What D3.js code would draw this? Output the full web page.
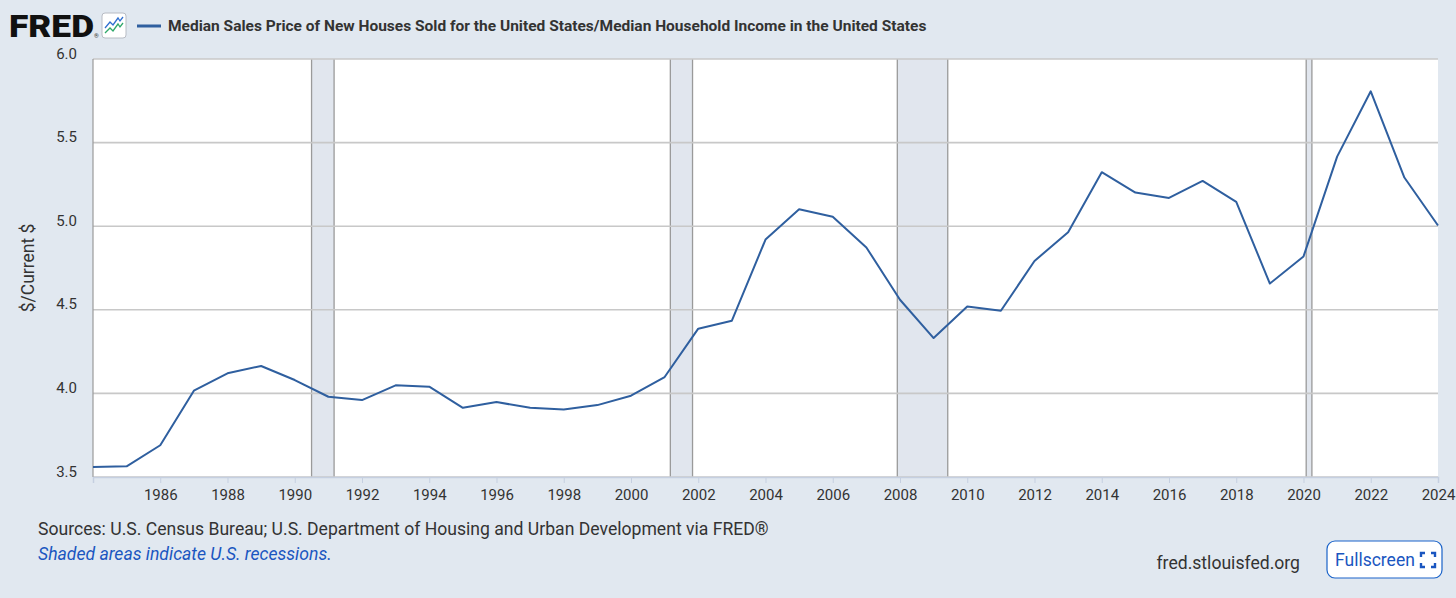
<!DOCTYPE html>
<html>
<head>
<meta charset="utf-8">
<script src="https://cdn.jsdelivr.net/npm/d3@7"></script>
<style>
  html, body { margin: 0; padding: 0; background: #e1e8f0; }
  svg { display: block; font-family: Roboto, "Noto Sans", sans-serif; }
</style>
</head>
<body>
<svg id="chart" width="1456" height="598"></svg>
<script>
(function () {
    'use strict';

    // annual values, 1984 - 2024
    var years = d3.range(1984, 2025);
    var ratio = [3.56, 3.564, 3.69, 4.016, 4.12, 4.164, 4.08, 3.98, 3.96, 4.048,
                 4.04, 3.914, 3.948, 3.914, 3.904, 3.93, 3.986, 4.098, 4.387, 4.435,
                 4.92, 5.101, 5.056, 4.873, 4.56, 4.331, 4.52, 4.494, 4.792, 4.964,
                 5.323, 5.201, 5.169, 5.271, 5.145, 4.657, 4.819, 5.416, 5.807, 5.291,
                 5.004];
    // recession start / end as fractional years
    var recessionStart = [1990.5, 2001.17, 2007.92, 2020.08];
    var recessionEnd = [1991.17, 2001.83, 2009.42, 2020.25];
    var yTicks = [3.5, 4.0, 4.5, 5.0, 5.5, 6.0];
    var xTicks = d3.range(1986, 2025, 2);

    var title = "Median Sales Price of New Houses Sold for the United States/Median Household Income in the United States";
    var yLabel = "$/Current $";
    var sourceText = "Sources: U.S. Census Bureau; U.S. Department of Housing and Urban Development via FRED®";
    var shadedText = "Shaded areas indicate U.S. recessions.";

    var margin = {top: 59, right: 18, bottom: 121, left: 93},
        width = 1456,
        height = 598,
        seriesColor = "#2f5f9f",
        gridColor = "#c8c8c8",
        textColor = "#333333";

    var svg = d3.select("#chart");

    var x = d3.scaleLinear()
        .domain([1984, 2024])
        .range([margin.left, width - margin.right]);
    var y = d3.scaleLinear()
        .domain([3.5, 6.0])
        .range([height - margin.bottom, margin.top]);

    //plot background
    svg.append("rect")
        .attr("x", x(1984))
        .attr("y", y(6))
        .attr("width", x(2024) - x(1984))
        .attr("height", y(3.5) - y(6))
        .attr("fill", "#ffffff");

    //recession bands
    var bands = svg.append("g").selectAll("g")
        .data(d3.zip(recessionStart, recessionEnd))
        .enter()
        .append("g");
    bands.append("rect")
        .attr("x", function (d) { return x(d[0]); })
        .attr("y", y(6))
        .attr("width", function (d) { return x(d[1]) - x(d[0]); })
        .attr("height", y(3.5) - y(6))
        .attr("fill", "#e1e6ee");

    //horizontal grid
    svg.append("g").selectAll("line")
        .data(yTicks)
        .enter()
        .append("line")
        .attr("x1", x(1984))
        .attr("x2", x(2024))
        .attr("y1", function (d) { return y(d); })
        .attr("y2", function (d) { return y(d); })
        .attr("stroke", gridColor)
        .attr("stroke-width", 1.6);

    //band edges on top of grid
    bands.append("line")
        .attr("x1", function (d) { return x(d[0]); })
        .attr("x2", function (d) { return x(d[0]); })
        .attr("y1", y(6))
        .attr("y2", y(3.5))
        .attr("stroke", "#9a9a9a")
        .attr("stroke-width", 1.3);
    bands.append("line")
        .attr("x1", function (d) { return x(d[1]); })
        .attr("x2", function (d) { return x(d[1]); })
        .attr("y1", y(6))
        .attr("y2", y(3.5))
        .attr("stroke", "#9a9a9a")
        .attr("stroke-width", 1.3);

    //plot frame left
    svg.append("line")
        .attr("x1", x(1984)).attr("x2", x(1984))
        .attr("y1", y(6)).attr("y2", y(3.5))
        .attr("stroke", "#9a9a9a")
        .attr("stroke-width", 1.2);

    //x axis
    var xAxis = d3.axisBottom(x)
        .tickValues(xTicks)
        .tickFormat(d3.format("d"))
        .tickSize(6)
        .tickPadding(6);
    var xg = svg.append("g")
        .attr("transform", "translate(0," + y(3.5) + ")")
        .call(xAxis);
    xg.select(".domain").attr("stroke", "#c5cfe0").attr("stroke-width", 1.5);
    xg.selectAll(".tick line").attr("stroke", "#c5cfe0");
    xg.selectAll(".tick text")
        .attr("fill", textColor)
        .style("font-size", "15px")
        .style("font-family", "Roboto, sans-serif");

    //y labels
    svg.append("g").selectAll("text")
        .data(yTicks)
        .enter()
        .append("text")
        .attr("x", 77)
        .attr("y", function (d) { return y(d) - 0.5; })
        .attr("text-anchor", "end")
        .attr("fill", textColor)
        .style("font-size", "15px")
        .text(function (d) { return d3.format(".1f")(d); });

    svg.append("text")
        .attr("transform", "translate(34," + 268 + ") rotate(-90)")
        .attr("text-anchor", "middle")
        .attr("fill", textColor)
        .style("font-size", "17.5px")
        .text(yLabel);

    //series line
    var line = d3.line()
        .x(function (d) { return x(d[0]); })
        .y(function (d) { return y(d[1]); });
    svg.append("path")
        .datum(d3.zip(years, ratio))
        .attr("d", line)
        .attr("fill", "none")
        .attr("stroke", seriesColor)
        .attr("stroke-width", 2)
        .attr("stroke-linejoin", "round");

    //header: FRED logo
    svg.append("text")
        .attr("x", 9)
        .attr("y", 37)
        .attr("fill", "#111")
        .style("font-size", "31px")
        .style("font-weight", 900)
        .style("font-family", "Roboto, sans-serif")
        .attr("textLength", 85)
        .attr("lengthAdjust", "spacingAndGlyphs")
        .text("FRED");
    svg.append("text")
        .attr("x", 94)
        .attr("y", 38)
        .attr("fill", "#333")
        .style("font-size", "6px")
        .text("®");

    var icon = svg.append("g").attr("transform", "translate(102,13)");
    icon.append("rect")
        .attr("width", 24).attr("height", 25).attr("rx", 3)
        .attr("fill", "#ffffff")
        .attr("stroke", "#b8bcc4");
    icon.append("path")
        .attr("d", "M3,15 L8,9 L11,12 L16,5 L18,8 L21,4")
        .attr("fill", "none").attr("stroke", "#2f6fd0").attr("stroke-width", 1.3);
    icon.append("path")
        .attr("d", "M3,20 L8,15 L11,18 L16,11 L18,14 L21,10")
        .attr("fill", "none").attr("stroke", "#2fa86a").attr("stroke-width", 1.3);

    //legend
    svg.append("line")
        .attr("x1", 137).attr("x2", 161)
        .attr("y1", 26).attr("y2", 26)
        .attr("stroke", seriesColor)
        .attr("stroke-width", 3);
    svg.append("text")
        .attr("x", 168)
        .attr("y", 31)
        .attr("fill", textColor)
        .style("font-size", "15.5px")
        .style("font-weight", 700)
        .text(title);

    //footer
    svg.append("text")
        .attr("x", 38)
        .attr("y", 535)
        .attr("fill", textColor)
        .style("font-size", "17.6px")
        .text(sourceText);
    svg.append("text")
        .attr("x", 38)
        .attr("y", 560)
        .attr("fill", "#1a56c0")
        .style("font-size", "17.6px")
        .style("font-style", "italic")
        .text(shadedText);
    svg.append("text")
        .attr("x", 1300)
        .attr("y", 569)
        .attr("text-anchor", "end")
        .attr("fill", textColor)
        .style("font-size", "17.6px")
        .text("fred.stlouisfed.org");

    var btn = svg.append("g").attr("transform", "translate(1327,541)");
    btn.append("rect")
        .attr("width", 115).attr("height", 37).attr("rx", 8)
        .attr("fill", "#ffffff")
        .attr("stroke", "#1a63c9")
        .attr("stroke-width", 1.2);
    btn.append("text")
        .attr("x", 8)
        .attr("y", 25)
        .attr("fill", "#1a56c0")
        .style("font-size", "17.5px")
        .text("Fullscreen");
    btn.append("path")
        .attr("d", "M94,16 L94,12 L98,12 M104,12 L108,12 L108,16 M108,22 L108,26 L104,26 M98,26 L94,26 L94,22")
        .attr("fill", "none")
        .attr("stroke", "#1a56c0")
        .attr("stroke-width", 2.4);
})();
</script>
</body>
</html>
